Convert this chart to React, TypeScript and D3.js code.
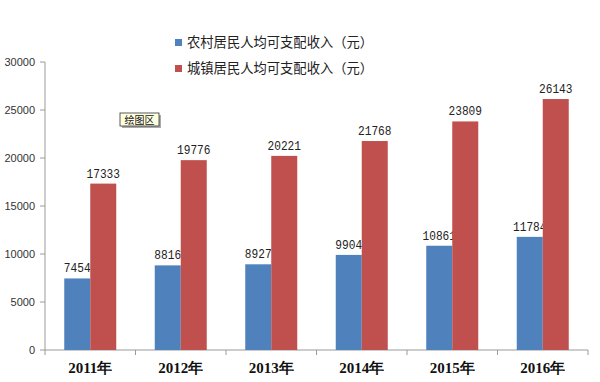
import React from "react";
import * as d3 from "d3";

const years = ["2011年", "2012年", "2013年", "2014年", "2015年", "2016年"];
const rural = [7454, 8816, 8927, 9904, 10861, 11784];
const urban = [17333, 19776, 20221, 21768, 23809, 26143];
const seriesNames = ["农村居民人均可支配收入（元）", "城镇居民人均可支配收入（元）"];
const yTicks = [0, 5000, 10000, 15000, 20000, 25000, 30000];
const colors = ["#4F81BD", "#C0504D"];

export default function App() {
  const W = 600, H = 382;
  const left = 45, right = 588, top = 62, bottom = 350;
  const x = d3.scaleBand<string>().domain(years).range([left, right]).paddingInner(0).paddingOuter(0);
  const y = d3.scaleLinear().domain([0, 30000]).range([bottom, top]);
  const barW = 26;
  const series = [rural, urban];
  return (
    <svg width={W} height={H} style={{ position: "absolute", left: 0, top: 0, background: "#fff" }}>
      <rect x={0} y={0} width={W} height={H} fill="#fff" />
      {/* y axis */}
      <line x1={left} x2={left} y1={top} y2={bottom} stroke="#9a9a9a" strokeWidth={1} />
      {yTicks.map((t) => (
        <g key={t}>
          <line x1={left - 5} x2={left} y1={y(t)} y2={y(t)} stroke="#9a9a9a" />
          <text x={left - 10} y={y(t) + 4} textAnchor="end" fontSize={11} fontFamily="Liberation Sans, Arial, sans-serif" fill="#333">
            {t}
          </text>
        </g>
      ))}
      {/* x axis */}
      <line x1={left} x2={right} y1={bottom} y2={bottom} stroke="#9a9a9a" />
      {[...years.map((yr) => x(yr)!), right].map((px, i) => (
        <line key={i} x1={px} x2={px} y1={bottom} y2={bottom + 5} stroke="#9a9a9a" />
      ))}
      {years.map((yr) => (
        <text key={yr} x={x(yr)! + x.bandwidth() / 2} y={bottom + 23} textAnchor="middle" fontSize={15} fontWeight="bold" fontFamily="Liberation Serif, serif" fill="#111">
          {yr}
        </text>
      ))}
      {/* bars and labels, series drawn in order so later bars cover earlier labels */}
      {series.map((vals, si) =>
        vals.map((v, i) => {
          const cx = x(years[i])! + x.bandwidth() / 2;
          const bx = cx - barW + si * barW;
          const s = String(v);
          return (
            <g key={`${si}-${i}`}>
              <rect x={bx} y={y(v)} width={barW} height={bottom - y(v)} fill={colors[si]} />
              <text
                x={bx + barW / 2}
                y={y(v) - 6}
                textAnchor="middle"
                fontSize={13}
                fontFamily="Liberation Mono, DejaVu Sans Mono, monospace"
                fill="#222"
                textLength={s.length * 6.7}
                lengthAdjust="spacingAndGlyphs"
              >
                {s}
              </text>
            </g>
          );
        })
      )}
      {/* legend */}
      {seriesNames.map((n, i) => (
        <g key={n}>
          <rect x={175} y={39 + i * 26} width={7} height={7} fill={colors[i]} />
          <text x={187} y={47 + i * 26} fontSize={13.3} fontFamily="Noto Sans CJK SC, sans-serif" fill="#222">
            {n}
          </text>
        </g>
      ))}
      {/* tooltip box */}
      <rect x={122} y={115} width={39} height={13} fill="#555" opacity={0.5} />
      <rect x={120} y={113} width={39} height={13} fill="#ffffe1" stroke="#333" strokeWidth={0.8} />
      <text x={139.5} y={123.5} textAnchor="middle" fontSize={10} fontFamily="Noto Sans CJK SC, sans-serif" fill="#111">
        绘图区
      </text>
    </svg>
  );
}
